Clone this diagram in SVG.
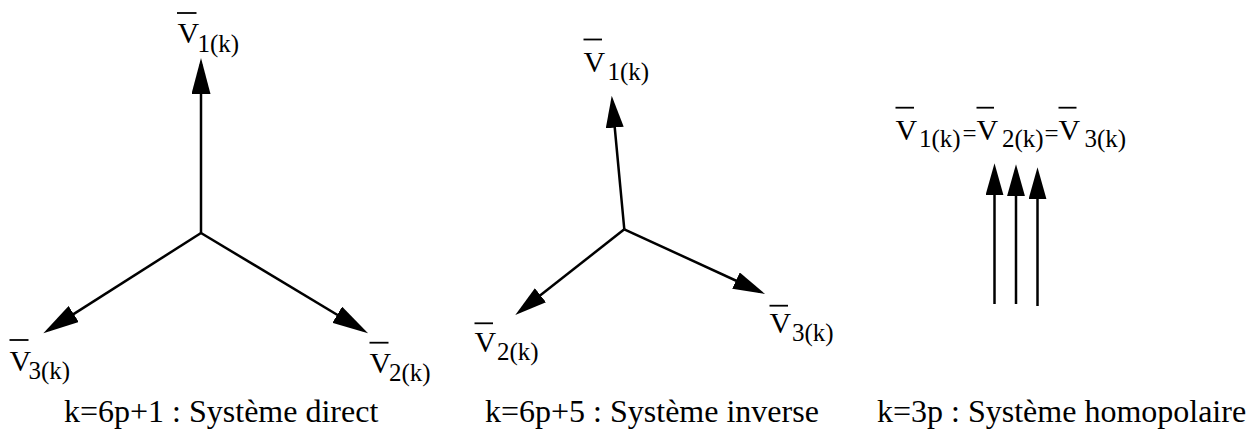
<svg xmlns="http://www.w3.org/2000/svg" width="1255" height="430" viewBox="0 0 1255 430">
<style>
.v { font-size: 30px; }
.s { font-size: 25px; }
.cap { font-size: 32px; }
.bar { stroke: #000; stroke-width: 1.8; fill: none; }
.vec { stroke: #000; stroke-width: 2.5; fill: none; }
.big { marker-end: url(#ahBig); }
.sm { marker-end: url(#ahSm); }
</style>
<defs>
<marker id="ahBig" markerUnits="userSpaceOnUse" markerWidth="36" markerHeight="19" viewBox="0 0 36 19" refX="30" refY="9.5" orient="auto">
<path d="M0,0 L36,9.5 L0,19 Z" fill="#000"/>
</marker>
<marker id="ahSm" markerUnits="userSpaceOnUse" markerWidth="32" markerHeight="18" viewBox="0 0 32 18" refX="26" refY="9" orient="auto">
<path d="M0,0 L32,9 L0,18 Z" fill="#000"/>
</marker>
</defs>
<rect width="1255" height="430" fill="#fff"/>

<g id="connectors">
<line class="vec big" x1="201" y1="233" x2="201" y2="64"/>
<line class="vec big" x1="201" y1="233" x2="362.9" y2="330.2"/>
<line class="vec big" x1="201" y1="233" x2="48.4" y2="330.1"/>
<line class="vec sm" x1="624.3" y1="229.3" x2="612.3" y2="101.7"/>
<line class="vec sm" x1="624.3" y1="229.3" x2="759.6" y2="291.5"/>
<line class="vec sm" x1="624.3" y1="229.3" x2="520.0" y2="311.3"/>
<line class="vec sm" x1="994.5" y1="304" x2="994.5" y2="169.3"/>
<line class="vec sm" x1="1016" y1="304" x2="1016" y2="170.3"/>
<line class="vec sm" x1="1037.5" y1="306" x2="1037.5" y2="173.3"/>
</g>

<g id="d1-v1">
<line class="bar" x1="177" y1="13" x2="196.5" y2="13"/>
<text class="v" font-family="Times New Roman" x="177.5" y="43">V</text>
<text class="s" font-family="Times New Roman" x="197.5" y="52">1(k)</text>
</g>
<g id="d1-v2">
<line class="bar" x1="369.5" y1="342.7" x2="388.5" y2="342.7"/>
<text class="v" font-family="Times New Roman" x="369.5" y="373">V</text>
<text class="s" font-family="Times New Roman" x="389" y="381">2(k)</text>
</g>
<g id="d1-v3">
<line class="bar" x1="9.5" y1="340" x2="28.5" y2="340"/>
<text class="v" font-family="Times New Roman" x="9.5" y="370.5">V</text>
<text class="s" font-family="Times New Roman" x="28.5" y="379">3(k)</text>
</g>
<g id="d1-caption">
<text class="cap" font-family="Times New Roman" x="64" y="422">k=6p+1 : Système direct</text>
</g>

<g id="d2-v1">
<line class="bar" x1="583.5" y1="39.5" x2="602" y2="39.5"/>
<text class="v" font-family="Times New Roman" x="583.5" y="71.5">V</text>
<text class="s" font-family="Times New Roman" x="607.5" y="79.5">1(k)</text>
</g>
<g id="d2-v2">
<line class="bar" x1="474.5" y1="323.3" x2="493" y2="323.3"/>
<text class="v" font-family="Times New Roman" x="474.5" y="352">V</text>
<text class="s" font-family="Times New Roman" x="497" y="360">2(k)</text>
</g>
<g id="d2-v3">
<line class="bar" x1="769.5" y1="305.7" x2="788" y2="305.7"/>
<text class="v" font-family="Times New Roman" x="769.5" y="333">V</text>
<text class="s" font-family="Times New Roman" x="792" y="341">3(k)</text>
</g>
<g id="d2-caption">
<text class="cap" font-family="Times New Roman" x="485" y="422">k=6p+5 : Système inverse</text>
</g>

<g id="d3-label">
<line class="bar" x1="895.5" y1="107.7" x2="914" y2="107.7"/>
<line class="bar" x1="976.5" y1="107.7" x2="994" y2="107.7"/>
<line class="bar" x1="1058.5" y1="107.7" x2="1076.5" y2="107.7"/>
<text class="v" font-family="Times New Roman" x="895.5" y="140">V</text>
<text class="s" font-family="Times New Roman" x="919" y="147">1(k)</text>
<text class="s" font-family="Times New Roman" x="962.5" y="142">=</text>
<text class="v" font-family="Times New Roman" x="976.5" y="140">V</text>
<text class="s" font-family="Times New Roman" x="1002" y="147">2(k)</text>
<text class="s" font-family="Times New Roman" x="1044.5" y="142">=</text>
<text class="v" font-family="Times New Roman" x="1058.5" y="140">V</text>
<text class="s" font-family="Times New Roman" x="1084.5" y="147">3(k)</text>
</g>
<g id="d3-caption">
<text class="cap" font-family="Times New Roman" x="877" y="422">k=3p : Système homopolaire</text>
</g>
</svg>
